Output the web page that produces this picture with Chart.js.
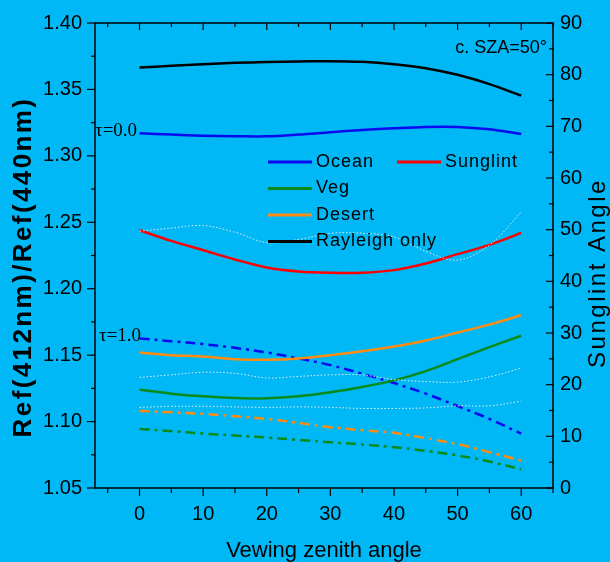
<!DOCTYPE html>
<html>
<head>
<meta charset="utf-8">
<script src="https://cdn.jsdelivr.net/npm/chart.js@4.4.0/dist/chart.umd.min.js"></script>
<style>
  html, body { margin: 0; padding: 0; background: #00b8f5; }
  canvas { display: block; }
</style>
</head>
<body>
<canvas id="chart" width="610" height="562"></canvas>
<script>
// ===== Data =====

const vza = [0, 5, 10, 15, 20, 25, 30, 35, 40, 45, 50, 55, 60];
const xTicks = [0, 10, 20, 30, 40, 50, 60];
const yTicks = [1.05, 1.10, 1.15, 1.20, 1.25, 1.30, 1.35, 1.40];
const angleTicks = [0, 10, 20, 30, 40, 50, 60, 70, 80, 90];

// tau = 0.0
const rayleigh = [1.3665, 1.3678, 1.369, 1.370, 1.3706, 1.371, 1.3713, 1.3708, 1.369, 1.366, 1.361, 1.354, 1.3454];
const ocean0 = [1.317, 1.316, 1.3152, 1.3148, 1.3147, 1.316, 1.3178, 1.3195, 1.3208, 1.3218, 1.3218, 1.320, 1.3165];
const sunglint = [1.244, 1.236, 1.229, 1.222, 1.216, 1.213, 1.212, 1.212, 1.214, 1.219, 1.226, 1.233, 1.242];
const desert0 = [1.152, 1.150, 1.149, 1.147, 1.1465, 1.1475, 1.150, 1.153, 1.1565, 1.161, 1.167, 1.173, 1.180];
const veg0 = [1.124, 1.121, 1.119, 1.1178, 1.1175, 1.119, 1.122, 1.126, 1.131, 1.138, 1.147, 1.156, 1.1646];

// tau = 1.0
const ocean1 = [1.1625, 1.1605, 1.1583, 1.1555, 1.152, 1.1475, 1.1425, 1.136, 1.129, 1.121, 1.1117, 1.102, 1.091];
const desert1 = [1.108, 1.107, 1.1058, 1.104, 1.102, 1.099, 1.0957, 1.0935, 1.0915, 1.0875, 1.083, 1.077, 1.0707];
const veg1 = [1.0945, 1.0928, 1.091, 1.0895, 1.088, 1.0862, 1.0845, 1.0827, 1.0807, 1.078, 1.0745, 1.070, 1.064];

// sunglint angle (right axis), dotted
const glintA = [49.7, 50.3, 50.8, 49.5, 47.5, 48.1, 49.3, 49.3, 48.6, 45.8, 44.1, 47.0, 53.4];
const glintB = [21.4, 21.9, 22.4, 22.2, 21.3, 21.6, 21.9, 21.9, 21.0, 20.6, 20.5, 21.5, 23.2];
const glintC = [15.6, 15.8, 15.8, 15.7, 15.6, 15.7, 15.6, 15.4, 15.4, 15.5, 15.9, 15.9, 16.8];

// ===== Styles =====

const BG = '#00b8f5';
const BLUE = '#0a0af0';
const RED = '#ff0000';
const GREEN = '#0a8a1a';
const ORANGE = '#ff8c10';
const DOTS = 'rgba(240,240,240,0.95)';
const DASHDOT = [10, 5, 3, 5];
const SANS = '"Liberation Sans", Arial, sans-serif';
const NARROW = '"Liberation Sans Narrow", "Liberation Sans", Arial, sans-serif';
const SERIF = '"Liberation Serif", "Times New Roman", serif';

function pts(arr) {
  return vza.map((x, i) => ({ x: x, y: arr[i] }));
}

function line(label, arr, color, opts) {
  return Object.assign({
    label: label,
    data: pts(arr),
    borderColor: color,
    borderWidth: 2.5,
    pointRadius: 0,
    tension: 0.35,
    fill: false,
    yAxisID: 'y'
  }, opts || {});
}

const datasets = [
  line('Glint A', glintA, DOTS, { borderWidth: 1, borderDash: [1.5, 2], yAxisID: 'y2' }),
  line('Glint B', glintB, DOTS, { borderWidth: 1, borderDash: [1.5, 2], yAxisID: 'y2' }),
  line('Glint C', glintC, DOTS, { borderWidth: 1, borderDash: [1.5, 2], yAxisID: 'y2' }),
  line('Rayleigh only', rayleigh, '#000000'),
  line('Ocean', ocean0, BLUE),
  line('Sunglint', sunglint, RED),
  line('Desert', desert0, ORANGE),
  line('Veg', veg0, GREEN),
  line('Ocean t1', ocean1, BLUE, { borderDash: DASHDOT }),
  line('Desert t1', desert1, ORANGE, { borderDash: DASHDOT }),
  line('Veg t1', veg1, GREEN, { borderDash: DASHDOT })
];

// legend entries drawn inside the plot
const legendItems = [
  { label: 'Ocean', color: BLUE, x: 268, y: 162 },
  { label: 'Sunglint', color: RED, x: 397, y: 162 },
  { label: 'Veg', color: GREEN, x: 268, y: 188.5 },
  { label: 'Desert', color: ORANGE, x: 268, y: 215 },
  { label: 'Rayleigh only', color: '#000000', x: 268, y: 241.5 }
];

// ===== Frame, ticks, texts =====

const decorations = {
  id: 'decorations',
  beforeDraw(chart) {
    const ctx = chart.ctx;
    ctx.save();
    ctx.fillStyle = BG;
    ctx.fillRect(0, 0, chart.width, chart.height);
    ctx.restore();
  },
  afterDraw(chart) {
    const { ctx, chartArea: a, scales } = chart;
    const seg = (x1, y1, x2, y2) => { ctx.beginPath(); ctx.moveTo(x1, y1); ctx.lineTo(x2, y2); ctx.stroke(); };
    ctx.save();
    ctx.strokeStyle = '#000';
    ctx.lineWidth = 1.5;
    ctx.strokeRect(a.left, a.top, a.right - a.left, a.bottom - a.top);
    ctx.lineWidth = 1.2;

    // x ticks: bottom outward, top inward
    const xMinor = xTicks.map(v => v - 5).concat([xTicks[xTicks.length - 1] + 5]);
    xTicks.forEach(v => {
      const p = scales.x.getPixelForValue(v);
      seg(p, a.bottom, p, a.bottom + 8);
      seg(p, a.top, p, a.top + 7);
    });
    xMinor.forEach(v => {
      if (v < scales.x.min || v > scales.x.max) return;
      const p = scales.x.getPixelForValue(v);
      seg(p, a.bottom, p, a.bottom + 5);
      seg(p, a.top, p, a.top + 4);
    });

    // left ticks outward
    yTicks.forEach((v, i) => {
      const p = scales.y.getPixelForValue(v);
      seg(a.left - 8, p, a.left, p);
      if (i < yTicks.length - 1) {
        const m = scales.y.getPixelForValue((v + yTicks[i + 1]) / 2);
        seg(a.left - 4, m, a.left, m);
      }
    });

    // right ticks inward
    angleTicks.forEach((v, i) => {
      const p = scales.y2.getPixelForValue(v);
      seg(a.right - 7, p, a.right, p);
      if (i < angleTicks.length - 1) {
        const m = scales.y2.getPixelForValue(v + 5);
        seg(a.right - 4, m, a.right, m);
      }
    });

    // legend
    legendItems.forEach(it => {
      ctx.strokeStyle = it.color;
      ctx.lineWidth = 3;
      seg(it.x, it.y, it.x + 44, it.y);
      ctx.fillStyle = '#000';
      ctx.font = '18px ' + SANS;
      ctx.letterSpacing = '1px';
      ctx.textAlign = 'left';
      ctx.textBaseline = 'middle';
      ctx.fillText(it.label, it.x + 48, it.y);
    });
    ctx.letterSpacing = '0px';

    // annotations
    ctx.fillStyle = '#000';
    ctx.font = '18px ' + SANS;
    ctx.textAlign = 'right';
    ctx.textBaseline = 'alphabetic';
    ctx.fillText('c. SZA=50°', 547, 53);
    ctx.font = '19px ' + SERIF;
    ctx.textAlign = 'left';
    ctx.fillText('τ=0.0', 95, 136);
    ctx.fillText('τ=1.0', 99, 341);

    // axis titles
    ctx.save();
    ctx.translate(24, 267);
    ctx.rotate(-Math.PI / 2);
    ctx.font = 'bold 26px ' + SANS;
    ctx.letterSpacing = '2.4px';
    ctx.textAlign = 'center';
    ctx.textBaseline = 'middle';
    ctx.fillText('Ref(412nm)/Ref(440nm)', 0, 0);
    ctx.restore();

    ctx.save();
    ctx.translate(598, 273);
    ctx.rotate(-Math.PI / 2);
    ctx.font = '24px ' + SANS;
    ctx.letterSpacing = '2.5px';
    ctx.textAlign = 'center';
    ctx.textBaseline = 'middle';
    ctx.fillText('Sunglint Angle', 0, 0);
    ctx.restore();

    ctx.font = '22px ' + SANS;
    ctx.textAlign = 'center';
    ctx.textBaseline = 'alphabetic';
    ctx.fillText('Vewing zenith angle', (a.left + a.right) / 2, 557);

    ctx.restore();
  }
};

// ===== Chart =====

const tickFont = { family: NARROW, size: 20 };
const hiddenGrid = (len) => ({ drawOnChartArea: false, color: 'rgba(0,0,0,0)', tickLength: len });

new Chart(document.getElementById('chart'), {
  type: 'line',
  data: { datasets: datasets },
  options: {
    responsive: false,
    devicePixelRatio: 1,
    animation: false,
    layout: { padding: { top: 23, left: 0, right: 0, bottom: 0 } },
    plugins: { legend: { display: false }, tooltip: { enabled: false } },
    scales: {
      x: {
        type: 'linear',
        position: 'bottom',
        min: -7,
        max: 65,
        afterBuildTicks: s => { s.ticks = xTicks.map(v => ({ value: v })); },
        afterFit: s => { s.height = 74; },
        grid: hiddenGrid(8),
        border: { display: false },
        ticks: { font: tickFont, color: '#000', padding: 6, maxRotation: 0 }
      },
      y: {
        position: 'left',
        min: 1.05,
        max: 1.40,
        afterBuildTicks: s => { s.ticks = yTicks.map(v => ({ value: v })); },
        afterFit: s => { s.width = 95; },
        grid: hiddenGrid(8),
        border: { display: false },
        ticks: { font: tickFont, color: '#000', padding: 5, callback: v => v.toFixed(2) }
      },
      y2: {
        position: 'right',
        min: 0,
        max: 90,
        afterBuildTicks: s => { s.ticks = angleTicks.map(v => ({ value: v })); },
        afterFit: s => { s.width = 57; },
        grid: hiddenGrid(3),
        border: { display: false },
        ticks: { font: tickFont, color: '#000', padding: 4 }
      }
    }
  },
  plugins: [decorations]
});
</script>
</body>
</html>
